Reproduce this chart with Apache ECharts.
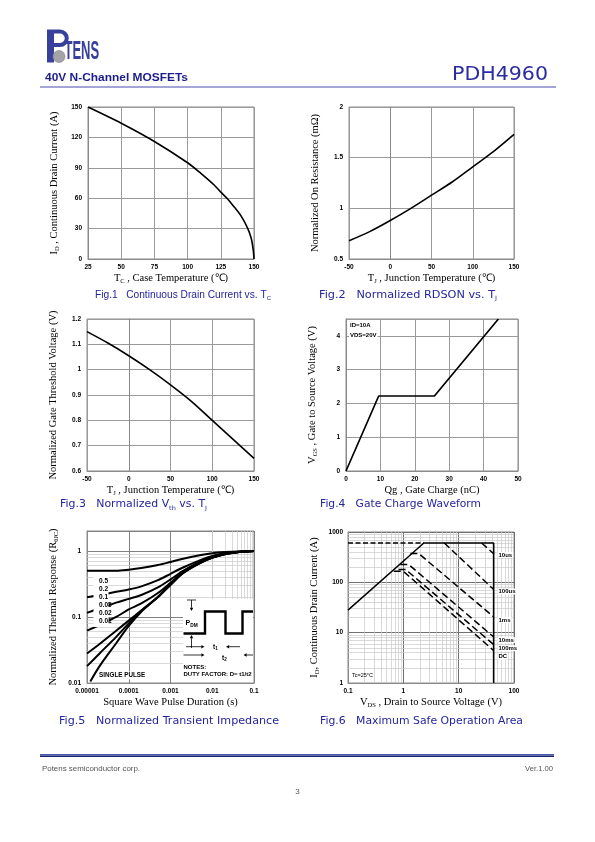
<!DOCTYPE html>
<html>
<head>
<meta charset="utf-8">
<title>PDH4960</title>
<script src="https://cdn.jsdelivr.net/npm/echarts@6.0.0/dist/echarts.min.js"></script>
<style>
html,body{margin:0;padding:0;background:#ffffff;}
#chart{width:595px;height:842px;}
</style>
</head>
<body>
<div id="chart"></div>
<script>
// ---------------- data ----------------
// Fig.1 Continuous drain current vs Tc
const fig1Tc = [25, 50, 75, 100, 110, 120, 125, 130, 135, 140, 145, 148, 149.5, 150];
const fig1Id = [150, 134, 116, 95, 84.5, 73, 66, 59.5, 51.5, 43, 31, 20, 8, 0];

// Fig.2 Normalized RDSON vs Tj
const fig2Tj = [-50, -25, 0, 25, 50, 75, 100, 125, 150];
const fig2Rn = [0.68, 0.77, 0.88, 1.0, 1.13, 1.26, 1.41, 1.56, 1.73];

// Fig.3 Normalized Vth vs Tj
const fig3Tj = [-50, -25, 0, 25, 50, 75, 100, 125, 150];
const fig3Vth = [1.15, 1.105, 1.055, 1.0, 0.94, 0.875, 0.80, 0.725, 0.65];

// Fig.4 Gate charge
const fig4Qg = [0, 9.5, 25.7, 44.3];
const fig4Vgs = [0, 2.22, 2.22, 4.5];

// Fig.5 Normalized transient impedance
const fig5T = [1e-5, 2e-5, 5e-5, 1e-4, 2e-4, 5e-4, 1e-3, 2e-3, 5e-3, 1e-2, 2e-2, 5e-2, 1e-1];
const fig5D05 = [0.50, 0.50, 0.50, 0.52, 0.55, 0.61, 0.68, 0.76, 0.86, 0.92, 0.96, 0.99, 1.0];
const fig5D02 = [0.198, 0.215, 0.24, 0.26, 0.29, 0.36, 0.45, 0.56, 0.72, 0.84, 0.92, 0.98, 1.0];
const fig5D01 = [0.115, 0.135, 0.165, 0.188, 0.215, 0.28, 0.37, 0.50, 0.68, 0.81, 0.91, 0.97, 1.0];
const fig5D005 = [0.062, 0.075, 0.10, 0.13, 0.16, 0.23, 0.33, 0.48, 0.67, 0.80, 0.90, 0.97, 1.0];
const fig5D002 = [0.028, 0.039, 0.062, 0.088, 0.125, 0.20, 0.315, 0.47, 0.66, 0.79, 0.90, 0.97, 1.0];
const fig5D001 = [0.018, 0.028, 0.05, 0.08, 0.125, 0.20, 0.31, 0.465, 0.655, 0.79, 0.89, 0.97, 1.0];
const fig5SpT = [1.2e-5, 2e-5, 5e-5, 1e-4, 2e-4, 5e-4, 1e-3, 2e-3, 5e-3, 1e-2, 2e-2, 5e-2, 1e-1];
const fig5Single = [0.0105, 0.018, 0.040, 0.073, 0.12, 0.20, 0.305, 0.46, 0.65, 0.785, 0.89, 0.97, 1.0];
const fig5Labels = ['0.5', '0.2', '0.1', '0.05', '0.02', '0.01'];

// Fig.6 Safe operating area
const fig6LimitV = [0.1, 2.35, 43, 43];
const fig6LimitI = [28, 605, 605, 1];
const fig6PkgV = [0.1, 2.35];
const fig6PkgI = [605, 605];
const fig6V10us = [26, 43];     const fig6I10us = [605, 370];
const fig6V100us = [5.5, 43];   const fig6I100us = [605, 72];
const fig6V1ms = [1.34, 1.9, 43];   const fig6I1ms = [373, 373, 20.5];
const fig6V10ms = [0.88, 1.25, 43]; const fig6I10ms = [226, 226, 8.2];
const fig6V100ms = [0.82, 1.1, 43]; const fig6I100ms = [180, 180, 5.8];
const fig6VDC = [0.67, 1.0, 43];    const fig6IDC = [166, 166, 4.4];
const fig6Labels = ['10us', '100us', '1ms', '10ms', '100ms', 'DC'];

// ---------------- helpers ----------------
const zip = (a, b) => a.map((v, i) => [v, b[i]]);
const SERIF = "'Liberation Serif','Times New Roman',serif";
const SANS = "'Liberation Sans',Arial,sans-serif";
const NARROW = "'Liberation Sans Narrow','Liberation Sans',Arial,sans-serif";
const DEJAVU = "'DejaVu Sans',sans-serif";
const BLUE = '#2424a0';
const tickStyle = {fontSize: 6.5, fontWeight: 'bold', fontFamily: SANS, color: '#000'};
const nameRich = {
  n: {fontFamily: SERIF, fontSize: 10.5, color: '#000', lineHeight: 13, verticalAlign: 'middle'},
  s: {fontFamily: SERIF, fontSize: 6.5, color: '#000', lineHeight: 8, verticalAlign: 'bottom'}
};
const GRIDS = [
  {left: 88, top: 107, width: 166, height: 152},
  {left: 349, top: 107, width: 165, height: 152},
  {left: 87, top: 319, width: 167, height: 152},
  {left: 346, top: 319, width: 172, height: 152},
  {left: 87, top: 531, width: 167, height: 152},
  {left: 348, top: 532, width: 166, height: 151}
];
const fmtNum = v => String(Number(v.toFixed(3)));
const fmtLog = v => {
  const l = Math.log10(v), e = Math.round(l);
  if (Math.abs(l - e) > 1e-6) return '';
  return e < 0 ? Math.pow(10, e).toFixed(-e) : String(Math.pow(10, e));
};
function axisBase(gi, extra) {
  return Object.assign({
    gridIndex: gi,
    type: 'value',
    axisLine: {show: true, lineStyle: {color: '#8a8a8a', width: 1}},
    axisTick: {show: false},
    splitLine: {show: true, lineStyle: {color: '#9a9a9a', width: 1}},
    nameLocation: 'middle',
    nameMoveOverlap: false,
    nameTextStyle: {rich: nameRich}
  }, extra);
}
function xA(gi, extra) {
  return axisBase(gi, Object.assign({
    axisLabel: Object.assign({margin: 4.5, formatter: fmtNum}, tickStyle),
    nameGap: 13
  }, extra));
}
function yA(gi, extra) {
  return axisBase(gi, Object.assign({
    axisLabel: Object.assign({margin: 6, formatter: fmtNum}, tickStyle),
    nameGap: 27, nameRotate: 90
  }, extra));
}
function line(gi, data, extra) {
  return Object.assign({
    type: 'line', xAxisIndex: gi, yAxisIndex: gi, data: data,
    showSymbol: false, symbol: 'none', silent: true, z: 5,
    lineStyle: {color: '#000', width: 1.6}
  }, extra);
}
function minorValues(e0, e1, maxV) {
  const out = [];
  for (let e = e0; e <= e1; e++) {
    for (let m = 2; m <= 9; m++) {
      const v = m * Math.pow(10, e);
      if (v < maxV * 0.999) out.push(v);
    }
  }
  return out;
}
function minorGrid(gi, xs, ys) {
  return {
    type: 'line', xAxisIndex: gi, yAxisIndex: gi, data: [], z: 1, silent: true,
    markLine: {
      silent: true, symbol: ['none', 'none'], label: {show: false}, animation: false,
      lineStyle: {color: '#c8c8c8', width: 0.7, type: 'solid'},
      data: xs.map(v => ({xAxis: v})).concat(ys.map(v => ({yAxis: v})))
    }
  };
}

// text measuring (to fit reference text widths)
const mctx = document.createElement('canvas').getContext('2d');
function measure(parts) {
  return parts.reduce((s, p) => { mctx.font = p[1]; return s + mctx.measureText(p[0]).width; }, 0);
}

// ---------------- graphic helpers ----------------
const gfx = [];
function txt(x, y, text, style, extra) {
  gfx.push(Object.assign({
    type: 'text', x: x, y: y, z: 120,
    style: Object.assign({text: text, fill: '#000', align: 'left', verticalAlign: 'middle'}, style)
  }, extra || {}));
}
function rect(x, y, w, h, fill, z) {
  gfx.push({type: 'rect', z: z || 110, shape: {x: x, y: y, width: w, height: h}, style: {fill: fill}});
}
function seg(pts, w, z) {
  gfx.push({type: 'polyline', z: z || 115, shape: {points: pts}, style: {stroke: '#000', lineWidth: w, fill: null}});
}
function arrow(x1, y1, x2, y2) {
  const dx = x2 - x1, dy = y2 - y1, L = Math.hypot(dx, dy), ux = dx / L, uy = dy / L, h = 3.2, w = 1.7;
  seg([[x1, y1], [x2 - ux * h, y2 - uy * h]], 0.8);
  gfx.push({type: 'polygon', z: 115, shape: {points: [[x2, y2], [x2 - ux * h - uy * w, y2 - uy * h + ux * w], [x2 - ux * h + uy * w, y2 - uy * h - ux * w]]}, style: {fill: '#000'}});
}
function fitText(x, y, w, text, fontSize, family, weight, fill, align) {
  const font = (weight || 'normal') + ' ' + fontSize + 'px ' + family;
  const sx = w / measure([[text, font]]);
  txt(0, 0, text, {fontFamily: family, fontWeight: weight || 'normal', fontSize: fontSize, fill: fill, align: align || 'left'}, {x: x, y: y, scaleX: sx});
}

// header logo
const LOGO = '#37409a';
gfx.push({type: 'rect', z: 100, shape: {x: 47, y: 29.5, width: 7, height: 33}, style: {fill: LOGO}});
gfx.push({type: 'rect', z: 100, shape: {x: 54, y: 29.5, width: 6, height: 4}, style: {fill: LOGO}});
gfx.push({type: 'rect', z: 100, shape: {x: 54, y: 43, width: 6, height: 4}, style: {fill: LOGO}});
gfx.push({type: 'arc', z: 100, shape: {cx: 60, cy: 38.25, r: 6.75, startAngle: -Math.PI / 2, endAngle: Math.PI / 2, clockwise: true}, style: {stroke: LOGO, lineWidth: 4, fill: null}});
gfx.push({type: 'circle', z: 100, shape: {cx: 59, cy: 56.5, r: 6}, style: {fill: '#a4a4a8', stroke: '#7d7d85', lineWidth: 0.6}});
txt(0, 0, 'TENS', {fontFamily: SANS, fontWeight: 'bold', fontSize: 26, fill: LOGO, verticalAlign: 'bottom'}, {x: 64.5, y: 65, scaleX: 0.5});
fitText(45, 77.5, 143, '40V N-Channel MOSFETs', 11.3, SANS, 'bold', '#1c1c8e');
fitText(452, 75.5, 96, 'PDH4960', 19, DEJAVU, 'normal', '#2b2ba2');
rect(40, 86.5, 516, 1, '#4a4ab0', 100);

// captions (main text + subscripts), widths fitted to the reference
function capRich(fam, a, s) {
  return {
    a: {fontFamily: fam, fontSize: a, fill: BLUE, lineHeight: 13, verticalAlign: 'middle'},
    s: {fontFamily: fam, fontSize: s, fill: BLUE, lineHeight: 8, verticalAlign: 'bottom'}
  };
}
const captions = [
  {x: 95, y: 295, w: 176, fam: SANS, a: 10.2, s: 6, parts: [['Fig.1   Continuous Drain Current vs. T', 'a'], ['C', 's']]},
  {x: 319, y: 295, w: 178, fam: DEJAVU, a: 10, s: 6, parts: [['Fig.2   Normalized RDSON vs. T', 'a'], ['J', 's']]},
  {x: 60, y: 504.5, w: 147, fam: DEJAVU, a: 10, s: 6, parts: [['Fig.3   Normalized V', 'a'], ['th', 's'], [' vs. T', 'a'], ['J', 's']]},
  {x: 320, y: 504.5, w: 161, fam: DEJAVU, a: 10, s: 6, parts: [['Fig.4   Gate Charge Waveform', 'a']]},
  {x: 59, y: 721.5, w: 220, fam: DEJAVU, a: 10, s: 6, parts: [['Fig.5   Normalized Transient Impedance', 'a']]},
  {x: 320, y: 721.5, w: 203, fam: DEJAVU, a: 10, s: 6, parts: [['Fig.6   Maximum Safe Operation Area', 'a']]}
];
captions.forEach(c => {
  const width = measure(c.parts.map(p => [p[0], (p[1] === 'a' ? c.a : c.s) + 'px ' + c.fam]));
  const text = c.parts.map(p => '{' + p[1] + '|' + p[0] + '}').join('');
  txt(0, 0, text, {rich: capRich(c.fam, c.a, c.s)}, {x: c.x, y: c.y, scaleX: c.w / width});
});

// footer
rect(40, 754, 514, 1.5, '#4a5bb0', 100);
rect(40, 755.5, 514, 1.5, '#1a2870', 100);
fitText(42, 769.5, 98, 'Potens semiconductor corp.', 7, SANS, 'normal', '#555');
fitText(553, 769.5, 28, 'Ver.1.00', 7, SANS, 'normal', '#555', 'right');
txt(297.5, 792, '3', {fontFamily: SANS, fontSize: 8, fill: '#555', align: 'center'});

// Fig.4 annotations
const smallBold = {fontFamily: NARROW, fontWeight: 'bold', fontSize: 6};
txt(349, 325, 'ID=10A', Object.assign({backgroundColor: '#fff', padding: [0, 1]}, smallBold));
txt(349, 335.5, 'VDS=20V', Object.assign({backgroundColor: '#fff', padding: [0, 1]}, smallBold));

// Fig.5 curve labels
rect(93.5, 575, 15, 52, '#fff', 110);
fig5Labels.forEach((t, i) => txt(99, 581 + i * 8, t, Object.assign({}, smallBold, {fontSize: 6.5})));
txt(98, 675.5, 'SINGLE PULSE', Object.assign({backgroundColor: '#fff', padding: [1, 1]}, smallBold, {fontSize: 6.3}));

// Fig.5 inset
rect(183, 599, 70, 83, '#fff', 108);
seg([[183.5, 633.5], [205, 633.5], [205, 611.5], [225.5, 611.5], [225.5, 633.5], [242.5, 633.5], [242.5, 611.5], [253, 611.5]], 2.4);
seg([[187, 600], [196, 600]], 0.8);
arrow(191.5, 600, 191.5, 611);
arrow(191.5, 648, 191.5, 635);
txt(185.5, 623.5, '{a|P}{b|DM}', {rich: {
  a: {fontFamily: NARROW, fontWeight: 'bold', fontSize: 7, lineHeight: 9, verticalAlign: 'middle'},
  b: {fontFamily: NARROW, fontWeight: 'bold', fontSize: 4.8, lineHeight: 6, verticalAlign: 'bottom'}}});
arrow(186, 646.7, 204.5, 646.7);
arrow(240, 646.7, 226, 646.7);
arrow(183.5, 655, 204.5, 655);
arrow(253, 655, 243.5, 655);
const tRich = {
  a: {fontFamily: NARROW, fontWeight: 'bold', fontSize: 6.5, lineHeight: 8, verticalAlign: 'middle'},
  b: {fontFamily: NARROW, fontWeight: 'bold', fontSize: 4.5, lineHeight: 6, verticalAlign: 'bottom'}};
txt(213, 647.5, '{a|t}{b|1}', {rich: tRich});
txt(222, 658.5, '{a|t}{b|2}', {rich: tRich});
txt(183.5, 667, 'NOTES:', smallBold);
txt(183.5, 674, 'DUTY FACTOR: D= t1/t2', smallBold);

// Fig.6 labels
const fig6LabelY = [555, 591.5, 620, 640, 648.3, 656.7];
fig6Labels.forEach((t, i) => txt(497.5, fig6LabelY[i], t, {backgroundColor: '#fff', padding: [0, 1], fontFamily: SANS, fontWeight: 'bold', fontSize: 6}));
txt(352, 675, 'Tc=25°C', {fontFamily: SANS, fontSize: 5.5});

// ---------------- option ----------------
const option = {
  animation: false,
  backgroundColor: '#fff',
  grid: GRIDS.map(g => Object.assign({show: true, borderColor: '#8a8a8a', borderWidth: 1, containLabel: false}, g)),
  xAxis: [
    xA(0, {min: 25, max: 150, interval: 25, name: '{n|T}{s|C}{n| , Case Temperature (℃)}'}),
    xA(1, {min: -50, max: 150, interval: 50, name: '{n|T}{s|J}{n| , Junction Temperature (℃)}'}),
    xA(2, {min: -50, max: 150, interval: 50, name: '{n|T}{s|J}{n| , Junction Temperature (℃)}'}),
    xA(3, {min: 0, max: 50, interval: 10, name: '{n|Qg , Gate Charge (nC)}'}),
    xA(4, {type: 'log', logBase: 10, min: 1e-5, max: 0.1, name: '{n|Square Wave Pulse Duration (s)}',
      axisLabel: Object.assign({margin: 5, formatter: fmtLog}, tickStyle),
      splitLine: {show: true, lineStyle: {color: '#808080', width: 1}}}),
    xA(5, {type: 'log', logBase: 10, min: 0.1, max: 100, name: '{n|V}{s|DS}{n| , Drain to Source Voltage (V)}',
      axisLabel: Object.assign({margin: 5, formatter: fmtLog}, tickStyle),
      splitLine: {show: true, lineStyle: {color: '#707070', width: 1}}})
  ],
  yAxis: [
    yA(0, {min: 0, max: 150, interval: 30, name: '{n|I}{s|D}{n| , Continuous Drain Current (A)}'}),
    yA(1, {min: 0.5, max: 2, interval: 0.5, name: '{n|Normalized On Resistance (mΩ)}'}),
    yA(2, {min: 0.6, max: 1.2, interval: 0.1, name: '{n|Normalized Gate Threshold Voltage (V)}'}),
    yA(3, {min: 0, max: 4.5, interval: 1, name: '{n|V}{s|GS}{n| , Gate to Source Voltage (V)}',
      axisLabel: Object.assign({margin: 6, formatter: v => (v > 4.01 ? '' : fmtNum(v))}, tickStyle)}),
    yA(4, {type: 'log', logBase: 10, min: 0.01, max: 2, name: '{n|Normalized Thermal Response (R}{s|θJC}{n|)}',
      axisLabel: Object.assign({margin: 6, formatter: fmtLog}, tickStyle),
      splitLine: {show: true, lineStyle: {color: '#808080', width: 1}}}),
    yA(5, {type: 'log', logBase: 10, min: 1, max: 1000, name: '{n|I}{s|D}{n|, Continuous Drain Current (A)}',
      axisLabel: Object.assign({margin: 5, formatter: fmtLog}, tickStyle),
      splitLine: {show: true, lineStyle: {color: '#707070', width: 1}}})
  ],
  series: [
    line(0, zip(fig1Tc, fig1Id), {smooth: 0.3}),
    line(1, zip(fig2Tj, fig2Rn), {smooth: 0.3}),
    line(2, zip(fig3Tj, fig3Vth), {smooth: 0.3}),
    line(3, zip(fig4Qg, fig4Vgs), {lineStyle: {color: '#000', width: 1.7}}),
    minorGrid(4, minorValues(-5, -2, 0.1), minorValues(-2, 0, 2)),
    line(4, zip(fig5T, fig5D05), {smooth: 0.3, lineStyle: {color: '#000', width: 2}}),
    line(4, zip(fig5T, fig5D02), {smooth: 0.3, lineStyle: {color: '#000', width: 2}}),
    line(4, zip(fig5T, fig5D01), {smooth: 0.3, lineStyle: {color: '#000', width: 2}}),
    line(4, zip(fig5T, fig5D005), {smooth: 0.3, lineStyle: {color: '#000', width: 2}}),
    line(4, zip(fig5T, fig5D002), {smooth: 0.3, lineStyle: {color: '#000', width: 2}}),
    line(4, zip(fig5T, fig5D001), {smooth: 0.3, lineStyle: {color: '#000', width: 2}}),
    line(4, zip(fig5SpT, fig5Single), {smooth: 0.3, lineStyle: {color: '#000', width: 2}}),
    minorGrid(5, minorValues(-1, 1, 100), minorValues(0, 2, 1000)),
    line(5, zip(fig6PkgV, fig6PkgI), {lineStyle: {color: '#000', width: 1.5, type: [5, 2.5]}}),
    line(5, zip(fig6LimitV, fig6LimitI), {lineStyle: {color: '#000', width: 1.5}}),
    line(5, zip(fig6V10us, fig6I10us), {lineStyle: {color: '#000', width: 1.5, type: [7, 3.5]}}),
    line(5, zip(fig6V100us, fig6I100us), {lineStyle: {color: '#000', width: 1.5, type: [7, 3.5]}}),
    line(5, zip(fig6V1ms, fig6I1ms), {lineStyle: {color: '#000', width: 1.5, type: [7, 3.5]}}),
    line(5, zip(fig6V10ms, fig6I10ms), {lineStyle: {color: '#000', width: 1.5, type: [7, 3.5]}}),
    line(5, zip(fig6V100ms, fig6I100ms), {lineStyle: {color: '#000', width: 1.5, type: [7, 3.5]}}),
    line(5, zip(fig6VDC, fig6IDC), {lineStyle: {color: '#000', width: 1.5, type: [7, 3.5]}})
  ],
  graphic: {elements: gfx}
};
const chart = echarts.init(document.getElementById('chart'), null, {renderer: 'canvas', width: 595, height: 842});
chart.setOption(option);
</script>
</body>
</html>
